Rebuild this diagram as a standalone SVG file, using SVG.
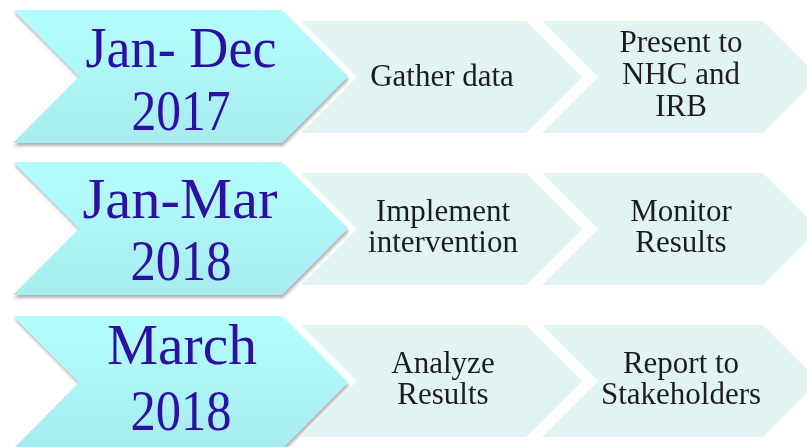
<svg xmlns="http://www.w3.org/2000/svg" width="807" height="447" viewBox="0 0 807 447">
  <defs>
    <linearGradient id="dateFill" x1="0" y1="0" x2="0" y2="1">
      <stop offset="0" stop-color="#b4fdfd"/>
      <stop offset="1" stop-color="#a7ecef"/>
    </linearGradient>
    <filter id="softShadow" x="-5%" y="-5%" width="115%" height="120%">
      <feDropShadow dx="1" dy="3" stdDeviation="1.6" flood-color="#555" flood-opacity="0.45"/>
    </filter>
    <filter id="soften" x="-2%" y="-10%" width="104%" height="120%">
      <feGaussianBlur stdDeviation="0.35"/>
    </filter>
  </defs>
  <style>
    .step { fill: #e2f3f4; }
    .date { fill: url(#dateFill); filter: url(#softShadow); }
    .dateText { font-family: "Liberation Serif", "Times New Roman", serif; font-size: 57px; fill: #2b10a3; text-anchor: middle; }
    .stepText { font-family: "Liberation Serif", "Times New Roman", serif; font-size: 31px; fill: #1e1e1e; text-anchor: middle; filter: url(#soften); }
  </style>
  <rect width="807" height="447" fill="#ffffff"/>

  <!-- connectors: none, the chevrons abut each other -->
  <g id="connectors"/>

  <!-- row 1 -->
  <g id="step-gather">
    <polygon class="step" points="301,21 526,21 582,77 526,133 301,133 357,77"/>
    <text class="stepText" x="442" y="86">Gather data</text>
  </g>
  <g id="step-present">
    <polygon class="step" points="542,21 763,21 819,77 763,133 542,133 598,77"/>
    <text class="stepText" x="681" y="52">Present to</text>
    <text class="stepText" x="681" y="84">NHC and</text>
    <text class="stepText" x="681" y="116">IRB</text>
  </g>
  <g id="date-2017">
    <polygon class="date" points="13,10 282,10 348,76.5 282,143 13,143 79,76.5"/>
    <text class="dateText" x="181" y="67" textLength="191" lengthAdjust="spacingAndGlyphs">Jan- Dec</text>
    <text class="dateText" x="181" y="130" textLength="99" lengthAdjust="spacingAndGlyphs">2017</text>
  </g>

  <!-- row 2 -->
  <g id="step-implement">
    <polygon class="step" points="301,173 526,173 582,229 526,285 301,285 357,229"/>
    <text class="stepText" x="443" y="221">Implement</text>
    <text class="stepText" x="443" y="252">intervention</text>
  </g>
  <g id="step-monitor">
    <polygon class="step" points="542,173 763,173 819,229 763,285 542,285 598,229"/>
    <text class="stepText" x="681" y="221">Monitor</text>
    <text class="stepText" x="681" y="252">Results</text>
  </g>
  <g id="date-jan-mar">
    <polygon class="date" points="13,162 282,162 348,228.5 282,295 13,295 79,228.5"/>
    <text class="dateText" x="180" y="218" textLength="195" lengthAdjust="spacingAndGlyphs">Jan-Mar</text>
    <text class="dateText" x="181" y="280" textLength="101" lengthAdjust="spacingAndGlyphs">2018</text>
  </g>

  <!-- row 3 -->
  <g id="step-analyze">
    <polygon class="step" points="301,325 526,325 582,381 526,437 301,437 357,381"/>
    <text class="stepText" x="443" y="373">Analyze</text>
    <text class="stepText" x="443" y="404">Results</text>
  </g>
  <g id="step-report">
    <polygon class="step" points="542,325 763,325 819,381 763,437 542,437 598,381"/>
    <text class="stepText" x="681" y="373">Report to</text>
    <text class="stepText" x="681" y="404">Stakeholders</text>
  </g>
  <g id="date-march">
    <polygon class="date" points="13,316 282,316 348,382.5 282,449 13,449 79,382.5"/>
    <text class="dateText" x="182" y="364" textLength="150" lengthAdjust="spacingAndGlyphs">March</text>
    <text class="dateText" x="181" y="430" textLength="101" lengthAdjust="spacingAndGlyphs">2018</text>
  </g>
</svg>
